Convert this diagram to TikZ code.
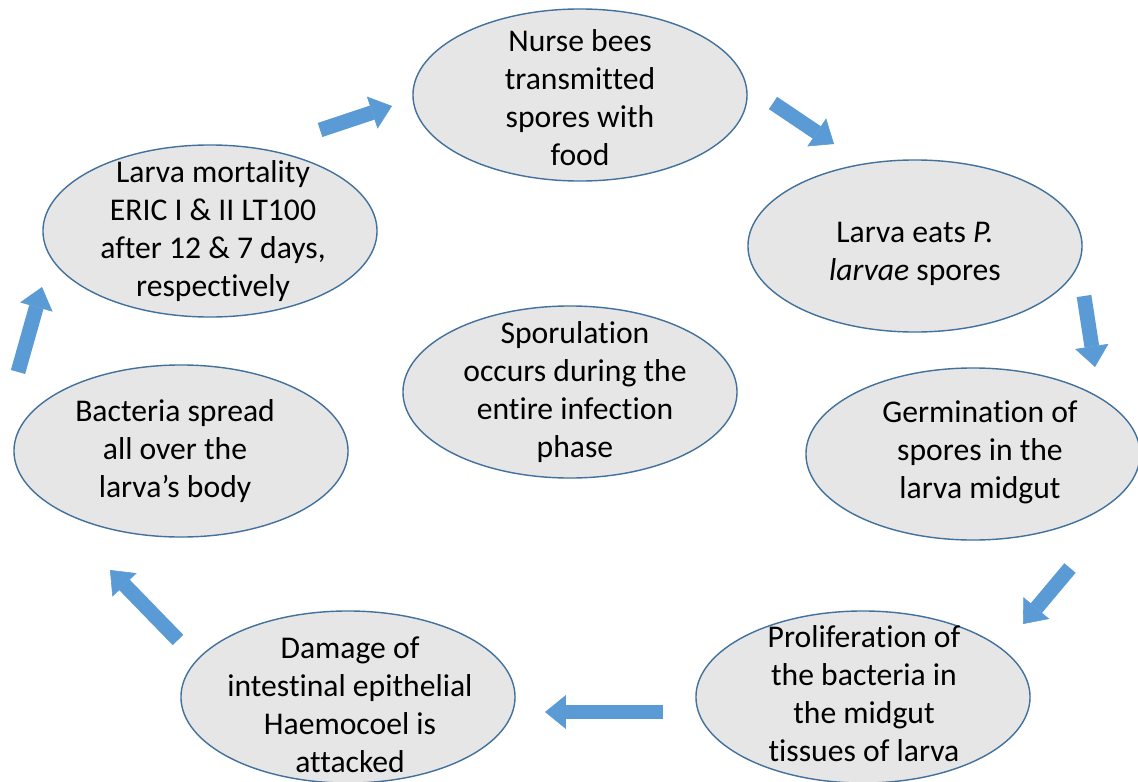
\documentclass[tikz,border=0pt]{standalone}
\usepackage{fontspec}
\setmainfont[Ligatures={NoCommon}]{Carlito}
\usetikzlibrary{shapes.geometric,arrows.meta}
\definecolor{cellfill}{RGB}{231,230,230}
\definecolor{celldraw}{RGB}{65,113,156}
\definecolor{arrowblue}{RGB}{91,155,213}

\begin{document}
\begin{tikzpicture}[x=0.025cm,y=-0.025cm]

      \useasboundingbox (0,0) rectangle (1138,782);

      % Ellipses
      \begin{scope}[every node/.style={ellipse,draw=celldraw,fill=cellfill,line width=1pt,minimum width=8.35cm,minimum height=4.3cm,inner sep=0pt}]
        \node (e1) at (580,95) {};
        \node (e2) at (915,246) {};
        \node (e3) at (973,454) {};
        \node (e4) at (863,697) {};
        \node (e5) at (348,697) {};
        \node (e6) at (181,451) {};
        \node (e7) at (210,231) {};
        \node (e8) at (570,392) {};
      \end{scope}

      % Texts
      \begin{scope}[every node/.style={align=center,font=\fontsize{22.5}{27}\selectfont}]
        \node (t1) at (580,98) {Nurse bees\\transmitted\\spores with\\food};
        \node (t2) at (915,254) {Larva eats \textit{P.}\\\textit{larvae} spores};
        \node (t3) at (980,452) {Germination of\\spores in the\\larva midgut};
        \node (t4) at (864,694) {Proliferation of\\the bacteria in\\the midgut\\tissues of larva};
        \node (t5) at (350,705) {Damage of\\intestinal epithelial\\Haemocoel is\\attacked};
        \node (t6) at (175,451) {Bacteria spread\\all over the\\larva’s body};
        \node (t7) at (213,231) {Larva mortality\\ERIC I \& II LT100\\after 12 \& 7 days,\\respectively};
        \node (t8) at (575,392) {Sporulation\\occurs during the\\entire infection\\phase};
      \end{scope}

      % Arrows
      \coordinate (a1) at (320,130); \coordinate (b1) at (392,106);
      \coordinate (a2) at (773,103); \coordinate (b2) at (834,144);
      \coordinate (a3) at (1084,296); \coordinate (b3) at (1095,367);
      \coordinate (a4) at (1070,568); \coordinate (b4) at (1023,624);
      \coordinate (a5) at (663,712); \coordinate (b5) at (545,712);
      \coordinate (a6) at (178,640); \coordinate (b6) at (110,570);
      \coordinate (a7) at (18,372); \coordinate (b7) at (42,287);
      \begin{scope}[every edge/.style={draw=arrowblue,line width=0.37cm,-{Triangle[width=0.84cm,length=0.52cm,line width=0.4pt]}}]
        \path (a1) edge (b1);
        \path (a2) edge (b2);
        \path (a3) edge (b3);
        \path (a4) edge (b4);
        \path (a5) edge (b5);
        \path (a6) edge (b6);
        \path (a7) edge (b7);
      \end{scope}

    \end{tikzpicture}
\end{document}
